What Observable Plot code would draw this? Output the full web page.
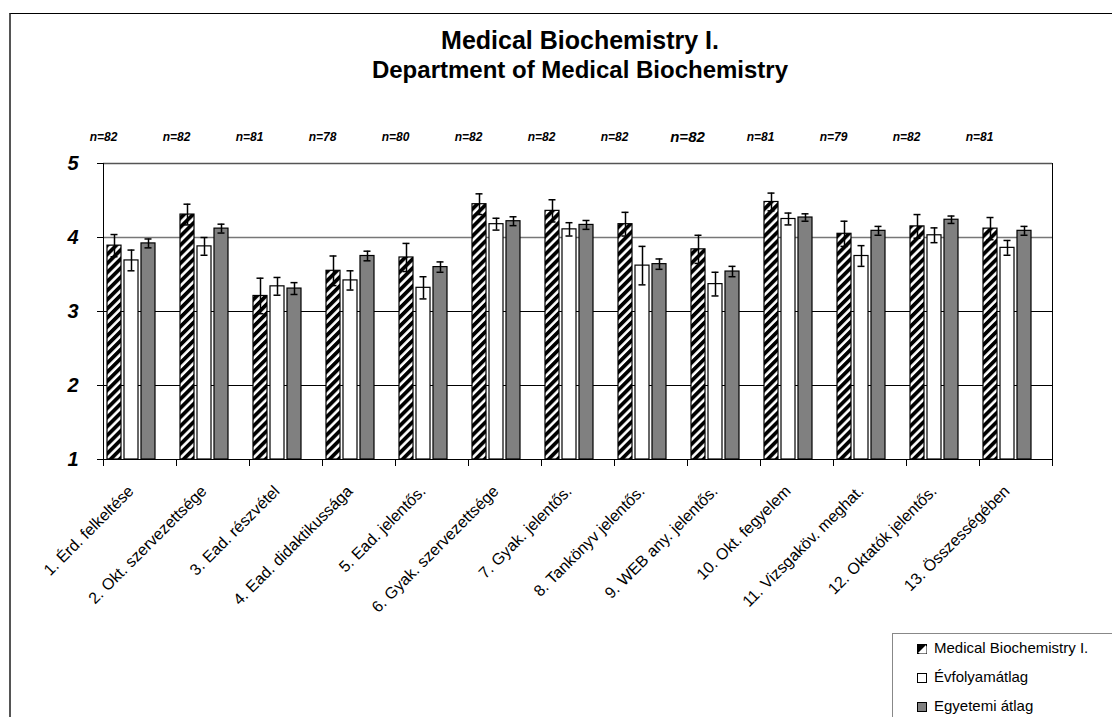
<!DOCTYPE html>
<html>
<head>
<meta charset="utf-8">
<script src="https://cdn.jsdelivr.net/npm/d3@7"></script>
<script src="https://cdn.jsdelivr.net/npm/@observablehq/plot@0.6"></script>
<style>
  html, body { margin: 0; padding: 0; background: #fff; }
  body { width: 1112px; height: 717px; position: relative; overflow: hidden; font-family: Arial, "Liberation Sans", sans-serif; }
  #chart { position: absolute; left: 0; top: 0; }
  #outer { position: absolute; left: 9px; top: 13px; width: 1200px; height: 800px; border-left: 2px solid #555; border-top: 1px solid #000; }
  #title { position: absolute; left: 280px; width: 600px; top: 25px; text-align: center; font-weight: bold; color: #000; }
  #title .t1 { font-size: 25px; line-height: 30px; }
  #title .t2 { font-size: 24px; line-height: 30px; }
  #legend { position: absolute; left: 892px; top: 633px; width: 260px; height: 120px; border: 1px solid #888; background: #fff; }
  .li { position: absolute; left: 24px; font-size: 15px; line-height: 17px; color: #000; white-space: nowrap; }
  .li svg { vertical-align: -1px; margin-right: 7px; }
</style>
</head>
<body>
<div id="outer"></div>
<div id="chart"></div>
<div id="title"><div class="t1">Medical Biochemistry I.</div><div class="t2">Department of Medical Biochemistry</div></div>
<div id="legend"></div>
<script>
// ---- data ----
const categories = [
  "1. Érd. felkeltése", "2. Okt. szervezettsége", "3. Ead. részvétel",
  "4. Ead. didaktikussága", "5. Ead. jelentős.", "6. Gyak. szervezettsége",
  "7. Gyak. jelentős.", "8. Tankönyv jelentős.", "9. WEB any. jelentős.",
  "10. Okt. fegyelem", "11. Vizsgaköv. meghat.", "12. Oktatók jelentős.",
  "13. Összességében"
];
const nValues = [82, 82, 81, 78, 80, 82, 82, 82, 82, 81, 79, 82, 81];
const seriesNames = ["Medical Biochemistry I.", "Évfolyamátlag", "Egyetemi átlag"];
const medBio    = [3.89, 4.31, 3.21, 3.55, 3.73, 4.45, 4.36, 4.18, 3.84, 4.48, 4.05, 4.15, 4.12];
const medBioErr = [0.15, 0.14, 0.24, 0.20, 0.19, 0.14, 0.15, 0.16, 0.19, 0.12, 0.17, 0.16, 0.15];
const evf       = [3.69, 3.88, 3.34, 3.42, 3.32, 4.18, 4.11, 3.62, 3.37, 4.25, 3.75, 4.03, 3.86];
const evfErr    = [0.14, 0.12, 0.12, 0.13, 0.15, 0.08, 0.09, 0.26, 0.16, 0.08, 0.14, 0.10, 0.10];
const egy       = [3.92, 4.12, 3.31, 3.75, 3.60, 4.22, 4.17, 3.64, 3.54, 4.27, 4.09, 4.24, 4.09];
const egyErr    = [0.06, 0.06, 0.08, 0.065, 0.07, 0.06, 0.06, 0.07, 0.07, 0.05, 0.06, 0.05, 0.06];
const yTicks = [1, 2, 3, 4, 5];

// ---- build table ----
const seriesVals = [medBio, evf, egy];
const seriesErrs = [medBioErr, evfErr, egyErr];
const rows = [];
categories.forEach((cat, i) => {
  seriesNames.forEach((s, k) => {
    rows.push({cat, series: s, value: seriesVals[k][i], err: seriesErrs[k][i]});
  });
});
const nRows = categories.map((cat, i) => ({cat, i, n: "n=" + nValues[i]}));

const font = 'Arial, "Liberation Sans", sans-serif';

const plot = Plot.plot({
  width: 1112,
  height: 717,
  marginLeft: 97,
  marginRight: 55,
  marginTop: 163,
  marginBottom: 258,
  style: {fontFamily: font, background: "transparent", overflow: "visible"},
  fx: {domain: categories, padding: 0, label: null},
  x: {domain: [...seriesNames, "_"], paddingInner: 0.17, paddingOuter: 0.14, axis: null},
  y: {domain: [1, 5], label: null},
  color: {domain: seriesNames, range: ["url(#hatch)", "#ffffff", "#808080"]},
  marks: [
    Plot.ruleY([2, 3], {stroke: "#000", strokeWidth: 1}),
    Plot.ruleY([4], {stroke: "#777", strokeWidth: 1.5}),
    Plot.ruleY([5], {stroke: "#555", strokeWidth: 1.5}),
    Plot.barY(rows, {fx: "cat", x: "series", y1: 1, y2: "value", fill: "series", stroke: "#000", strokeWidth: 1.2}),
    Plot.ruleX(rows, {fx: "cat", x: "series", y1: d => d.value - d.err, y2: d => d.value + d.err, stroke: "#000", strokeWidth: 1.5}),
    Plot.tickY(rows, {fx: "cat", x: "series", y: d => d.value + d.err, stroke: "#000", strokeWidth: 1.5, insetLeft: 3.5, insetRight: 3.5}),
    Plot.tickY(rows, {fx: "cat", x: "series", y: d => d.value - d.err, stroke: "#000", strokeWidth: 1.5, insetLeft: 3.5, insetRight: 3.5}),
    Plot.ruleY([1], {stroke: "#000", strokeWidth: 1}),
    Plot.frame({anchor: "left", insetTop: 296, insetBottom: -6, stroke: "#000"}),
    Plot.frame({anchor: "left", facetAnchor: "left", stroke: "#000"}),
    Plot.frame({anchor: "right", facetAnchor: "right", insetBottom: -6, stroke: "#000"}),
    Plot.text(nRows, {fx: "cat", text: "n", frameAnchor: "top-left", textAnchor: "middle", lineAnchor: "middle", dy: -26,
      fontSize: d => d.i === 8 ? 15 : 12, fontWeight: "bold", fontStyle: "italic", fill: "#000"}),
    Plot.axisY({ticks: yTicks, tickFormat: d => d, tickSize: 6, tickPadding: 19, fontSize: 20, fontWeight: "bold", fontStyle: "italic", label: null}),
    Plot.axisFx({anchor: "bottom", tickRotate: -45, tickSize: 0, tickPadding: 29, dx: -9, fontSize: 16, label: null, fill: "#000"})
  ]
});

// hatch pattern
d3.select(plot).insert("defs", ":first-child").html(
  '<pattern id="hatch" patternUnits="userSpaceOnUse" width="6.4" height="6.4" patternTransform="rotate(45)">' +
  '<rect x="0" y="0" width="6.4" height="6.4" fill="#fff"/>' +
  '<rect x="0" y="0" width="3.8" height="6.4" fill="#000"/></pattern>'
);
document.getElementById("chart").appendChild(plot);

// legend
const sw = [
  '<svg width="10" height="10"><rect x="0.5" y="0.5" width="9" height="9" fill="#fff" stroke="#000"/><path d="M0.5,9.5 L0.5,0.5 L9.5,0.5 Z" fill="#000"/><path d="M2,9.5 L9.5,2 L9.5,9.5 Z" fill="#fff"/></svg>',
  '<svg width="10" height="10"><rect x="0.5" y="0.5" width="9" height="9" fill="#fff" stroke="#000"/></svg>',
  '<svg width="10" height="10"><rect x="0.5" y="0.5" width="9" height="9" fill="#808080" stroke="#000"/></svg>'
];
const legend = document.getElementById("legend");
seriesNames.forEach((s, k) => {
  const d = document.createElement("div");
  d.className = "li";
  d.style.top = (5 + k * 29) + "px";
  d.innerHTML = sw[k] + s;
  legend.appendChild(d);
});
</script>
</body>
</html>
